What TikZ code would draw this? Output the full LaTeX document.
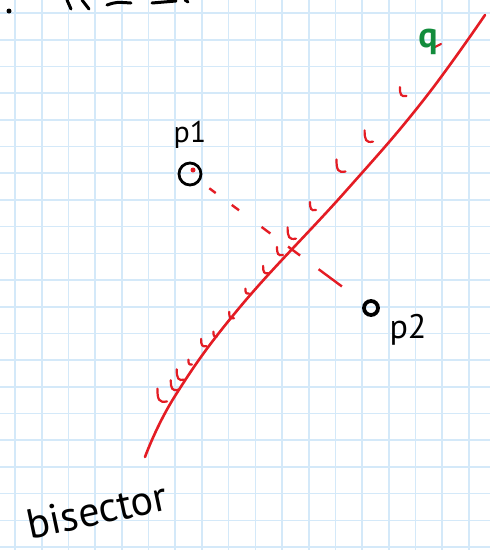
\documentclass[tikz,border=0pt]{standalone}
\usepackage{fontspec}
\setmainfont{PT Sans}
\usetikzlibrary{calc}
\definecolor{gridblue}{RGB}{212,233,249}
\definecolor{bisred}{RGB}{228,28,36}
\definecolor{qgreen}{RGB}{18,140,60}

\begin{document}
\begin{tikzpicture}[
  x=1pt, y=-1pt,
  gridline/.style={draw=gridblue, line width=1.6pt},
  bisline/.style={draw=bisred, line width=2.6pt, line cap=round},
  hatch/.style={draw=bisred, line width=2.2pt, line cap=round},
  bisdash/.style={draw=bisred, line width=2.4pt,
    dash pattern=on 0pt off 24pt on 8pt off 20pt on 9pt off 28pt on 11pt off 22pt on 15pt off 23pt on 29pt off 200pt},
  ptring/.style={draw, circle, inner sep=0pt},
  scrawl/.style={draw, line width=3pt, line cap=round},
  hand/.style={inner sep=0pt, font=\fontsize{30}{30}\selectfont},
  hook/.pic={\draw[hatch] (-1,-9) .. controls (-1,-2) and (0,0) .. (5,-1);}
]
\useasboundingbox (0,0) rectangle (490,550);
\fill[white] (0,0) rectangle (490,550);
\foreach \i in {0,...,17}
  \draw[gridline] ({15+26.7*\i},0) -- ({15+26.7*\i},550);
\foreach \j in {0,...,20}
  \draw[gridline] (0,{13+26.7*\j}) -- (490,{13+26.7*\j});

\fill (9,11) circle (2.5);
\draw[scrawl] (67,0) -- (71,9);
\draw[scrawl] (82,0) -- (89,9);
\draw[scrawl] (107,5) .. controls (116,2) .. (131,3);
\draw[scrawl] (152,3) -- (176,1);
\draw[scrawl] (185,0) -- (188,2);

\draw[bisline] plot[smooth, tension=0.7] coordinates {(145,457) (175,396) (240,307) (345,192) (422,102) (485,15)};

\foreach \hx/\hy/\hs in {159/403/1.6, 172/391/1.2, 178/381/1.3, 189/365/0.6, 202/347/0.9, 214/337/0.6, 230/319/0.8, 246/294/0.6, 264/274/0.9, 278/256/1.0, 289/240/1.4, 311/211/1.0, 338/173/1.5, 366/143/1.4, 401/97/1.1}
  \pic[scale=\hs] at (\hx,\hy) {hook};
\draw[hatch] (433,48) -- (441,44);

\coordinate (p1) at (190,174);
\coordinate (p2) at (371,308);
\draw[bisdash] (p1) -- (p2);

\node[ptring, line width=2.8pt, minimum width=22pt, minimum height=18pt] (p1ring) at (p1) {};
\fill[bisred] (193,170) circle (2.5);
\node[ptring, line width=3.8pt, minimum size=14pt] (p2ring) at (p2) {};

\node[hand] (p1lab) at (190,135) {p1};
\node[hand, font=\fontsize{34}{34}\selectfont] (p2lab) at (408,330) {p2};
\node[hand, rotate=12, font=\fontsize{42}{42}\selectfont] (bislab) at (97,510) {bisector};
\node[hand, text=qgreen, font=\fontsize{36}{36}\bfseries] (q) at (428,42) {q};
\end{tikzpicture}
\end{document}
